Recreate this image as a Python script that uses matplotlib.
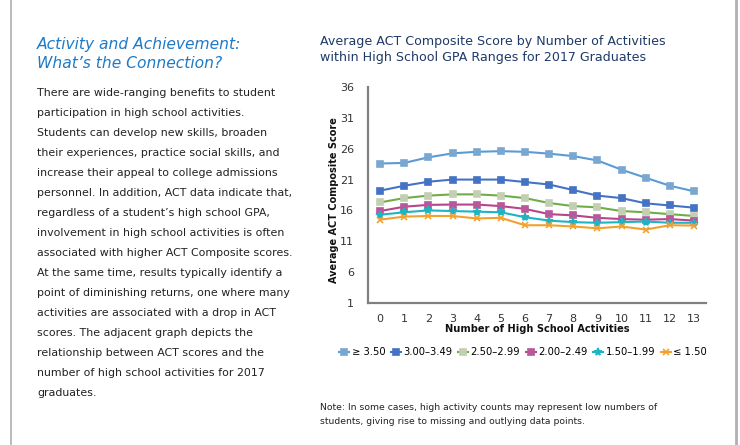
import matplotlib
matplotlib.use("Agg")
import matplotlib.pyplot as plt
from matplotlib.lines import Line2D

activities = list(range(14))
tick_labels = [str(a) for a in activities]
series_names = ["\u2265 3.50", "3.00\u20133.49", "2.50\u20132.99", "2.00\u20132.49", "1.50\u20131.99", "\u2264 1.50"]
gpa_350 = [23.6, 23.7, 24.6, 25.25, 25.5, 25.6, 25.5, 25.2, 24.8, 24.1, 22.6, 21.3, 20.0, 19.1]
gpa_300 = [19.2, 20.0, 20.65, 21.0, 21.0, 21.0, 20.6, 20.2, 19.3, 18.4, 18.0, 17.15, 16.8, 16.45]
gpa_250 = [17.3, 18.0, 18.4, 18.6, 18.6, 18.4, 18.0, 17.2, 16.7, 16.5, 15.9, 15.7, 15.4, 15.1]
gpa_200 = [15.9, 16.6, 16.9, 16.95, 16.95, 16.7, 16.25, 15.4, 15.2, 14.8, 14.6, 14.5, 14.6, 14.35]
gpa_150 = [15.3, 15.7, 16.0, 15.9, 15.8, 15.7, 14.9, 14.35, 14.1, 14.0, 14.1, 14.2, 14.0, 14.0]
gpa_low = [14.5, 15.0, 15.1, 15.1, 14.7, 14.8, 13.6, 13.6, 13.4, 13.1, 13.4, 12.9, 13.6, 13.55]
y_ticks = [1, 6, 11, 16, 21, 26, 31, 36]

heading = ["Activity and Achievement:", "What\u2019s the Connection?"]
body = [
    "There are wide-ranging benefits to student",
    "participation in high school activities.",
    "Students can develop new skills, broaden",
    "their experiences, practice social skills, and",
    "increase their appeal to college admissions",
    "personnel. In addition, ACT data indicate that,",
    "regardless of a student\u2019s high school GPA,",
    "involvement in high school activities is often",
    "associated with higher ACT Composite scores.",
    "At the same time, results typically identify a",
    "point of diminishing returns, one where many",
    "activities are associated with a drop in ACT",
    "scores. The adjacent graph depicts the",
    "relationship between ACT scores and the",
    "number of high school activities for 2017",
    "graduates.",
]
title_lines = ["Average ACT Composite Score by Number of Activities",
               "within High School GPA Ranges for 2017 Graduates"]
note_lines = ["Note: In some cases, high activity counts may represent low numbers of",
              "students, giving rise to missing and outlying data points."]

plt.rcParams['font.family'] = ['DejaVu Sans']

W, H = 740, 445
fig = plt.figure(figsize=(W / 100, H / 100), dpi=100)
fig.patch.set_facecolor("white")

def fx(px):
    return px / W

def fy(py):
    return 1 - py / H

# border lines
fig.add_artist(Line2D([fx(10.5), fx(10.5)], [0, 1], color="#b0b0b0", lw=1.2))
fig.add_artist(Line2D([fx(736), fx(736)], [0, 1], color="#b0b0b0", lw=2.0))

# left heading
for i, t in enumerate(heading):
    fig.text(fx(37), fy(44 + i * 20), t, fontsize=11.2, style="italic",
             color="#1f7ac6", va="center", ha="left")
for i, t in enumerate(body):
    fig.text(fx(37), fy(93 + i * 20), t, fontsize=7.95, color="#222222",
             va="center", ha="left")

# chart title
for i, t in enumerate(title_lines):
    fig.text(fx(320), fy(41 + i * 17), t, fontsize=9.05, color="#1f3a68",
             va="center", ha="left")

ax = fig.add_axes([fx(368), fy(303), fx(706) - fx(368), fy(87) - fy(303)])
series = [gpa_350, gpa_300, gpa_250, gpa_200, gpa_150, gpa_low]
line_colors = ["#5b9bd5", "#4472c4", "#70ad47", "#b8448c", "#1db5c4", "#f2a12e"]
marker_colors = ["#7aa7d0", "#4472c4", "#c3cfb2", "#b8589a", "#1db5c4", "#f2a12e"]
markers = ["s", "s", "s", "s", "*", "x"]
msizes = [4.3, 4.6, 4.3, 4.3, 6, 4.5]

for vals, name, lc, mc, m, ms in zip(series, series_names, line_colors, marker_colors, markers, msizes):
    ax.plot(activities, vals, color=lc, lw=1.5, marker=m, markersize=ms,
            markerfacecolor=mc, markeredgecolor=mc, markeredgewidth=1.2, label=name)

ax.set_xlim(-0.5, 13.5)
ax.set_ylim(1, 36)
ax.set_yticks(y_ticks)
ax.set_xticks(activities)
ax.set_xticklabels(tick_labels)
ax.tick_params(axis="both", length=0, labelsize=8, colors="#333333")
ax.tick_params(axis="y", pad=10)
ax.tick_params(axis="x", pad=8)
for s in ["top", "right"]:
    ax.spines[s].set_visible(False)
for s in ["left", "bottom"]:
    ax.spines[s].set_color("#808080")
    ax.spines[s].set_linewidth(1.6)
ax.set_facecolor("white")

fig.text(fx(334), fy(200), "Average ACT Composite Score", rotation=90, fontsize=7.0,
         fontweight="bold", color="#111111", ha="center", va="center")
fig.text(fx(537), fy(329), "Number of High School Activities", fontsize=7.1,
         fontweight="bold", color="#111111", ha="center", va="center")

handles, labels = ax.get_legend_handles_labels()
fig.legend(handles, labels, loc="center", bbox_to_anchor=(fx(523), fy(352)), ncol=6,
           frameon=False, fontsize=7.2, handlelength=1.0, handletextpad=0.25,
           columnspacing=0.55, markerscale=0.9, borderaxespad=0, borderpad=0)

for i, t in enumerate(note_lines):
    fig.text(fx(320), fy(408 + i * 14), t, fontsize=6.7, color="#222222",
             va="center", ha="left")

fig.savefig("out.png", dpi=100, facecolor="white")
